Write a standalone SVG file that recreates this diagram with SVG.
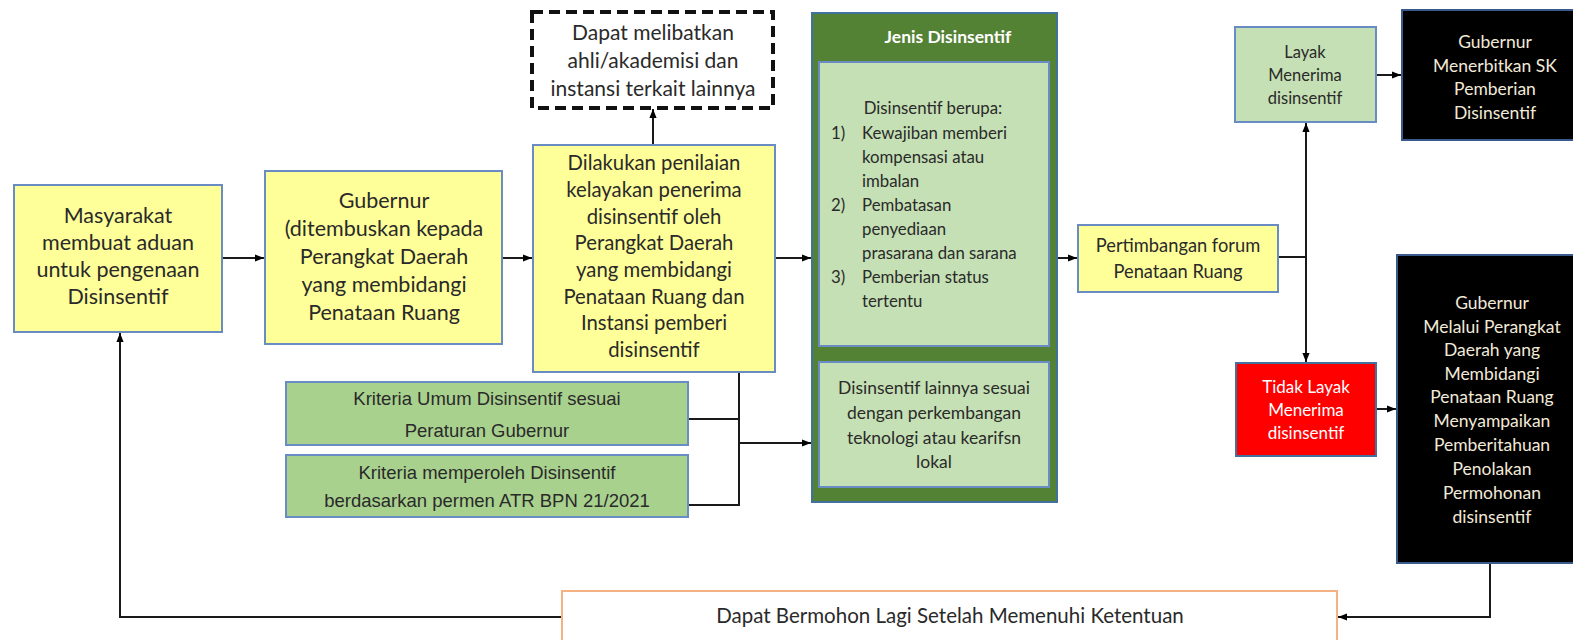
<svg xmlns="http://www.w3.org/2000/svg" width="1573" height="640" viewBox="0 0 1573 640">
<defs>
<marker id="ah" viewBox="0 0 10 10" refX="10" refY="5" markerWidth="9" markerHeight="9" markerUnits="userSpaceOnUse" orient="auto">
<path d="M0,1 L10,5 L0,9 z" fill="#000"/>
</marker>
<style>
.t{font-family:Lato,"Open Sans",sans-serif;fill:#2a2a2a;text-anchor:middle}
.yb{fill:#ffff99;stroke:#6a8cc4;stroke-width:2}
.gb{fill:#c5e0b4;stroke:#6a8cc4;stroke-width:2}
.cb{fill:#a9d18e;stroke:#6a8cc4;stroke-width:2}
.bk{fill:#000;stroke:#3a5a8c;stroke-width:2}
.wt{font-family:Lato,"Open Sans",sans-serif;fill:#f2ead8;text-anchor:middle}
.ar{font-family:"Liberation Sans",Arial,sans-serif;fill:#2a2a2a;text-anchor:middle}
.c{fill:none;stroke:#1a1a1a;stroke-width:2}
</style>
</defs>
<rect width="1573" height="640" fill="#fff"/>

<g id="connectors">
<line class="c" x1="222" y1="258" x2="264" y2="258" marker-end="url(#ah)"/>
<line class="c" x1="502" y1="258" x2="532" y2="258" marker-end="url(#ah)"/>
<line class="c" x1="653" y1="145" x2="653" y2="109" marker-end="url(#ah)"/>
<line class="c" x1="775" y1="258" x2="811" y2="258" marker-end="url(#ah)"/>
<polyline class="c" points="739,372 739,505 688,505"/>
<line class="c" x1="688" y1="419" x2="739" y2="419"/>
<line class="c" x1="739" y1="443" x2="811" y2="443" marker-end="url(#ah)"/>
<line class="c" x1="1057" y1="258" x2="1077" y2="258" marker-end="url(#ah)"/>
<line class="c" x1="1278" y1="257" x2="1306" y2="257"/>
<line class="c" x1="1306" y1="257" x2="1306" y2="123" marker-end="url(#ah)"/>
<line class="c" x1="1306" y1="257" x2="1306" y2="362" marker-end="url(#ah)"/>
<line class="c" x1="1376" y1="75" x2="1401" y2="75" marker-end="url(#ah)"/>
<line class="c" x1="1376" y1="409" x2="1396" y2="409" marker-end="url(#ah)"/>
<polyline class="c" points="1490,563 1490,617 1338,617" marker-end="url(#ah)"/>
<polyline class="c" points="562,617 120,617 120,333" marker-end="url(#ah)"/>
</g>

<g id="n-masyarakat">
<rect class="yb" x="14" y="185" width="208" height="147"/>
<text class="t" font-size="21.5"><tspan x="118" y="223">Masyarakat</tspan><tspan x="118" y="250">membuat aduan</tspan><tspan x="118" y="277">untuk pengenaan</tspan><tspan x="118" y="304">Disinsentif</tspan></text>
</g>

<g id="n-gubernur">
<rect class="yb" x="265" y="171" width="237" height="173"/>
<text class="t" font-size="21.5"><tspan x="384" y="208">Gubernur</tspan><tspan x="384" y="236">(ditembuskan kepada</tspan><tspan x="384" y="264">Perangkat Daerah</tspan><tspan x="384" y="292">yang membidangi</tspan><tspan x="384" y="320">Penataan Ruang</tspan></text>
</g>

<g id="n-ahli">
<rect x="532" y="12" width="241" height="96" fill="#fff" stroke="#111" stroke-width="4" stroke-dasharray="11,6"/>
<text class="t" font-size="21"><tspan x="653" y="40">Dapat melibatkan</tspan><tspan x="653" y="68">ahli/akademisi dan</tspan><tspan x="653" y="96">instansi terkait lainnya</tspan></text>
</g>

<g id="n-penilaian">
<rect class="yb" x="533" y="145" width="242" height="227"/>
<text class="t" font-size="20.3"><tspan x="654" y="170">Dilakukan penilaian</tspan><tspan x="654" y="197">kelayakan penerima</tspan><tspan x="654" y="224">disinsentif oleh</tspan><tspan x="654" y="250">Perangkat Daerah</tspan><tspan x="654" y="277">yang membidangi</tspan><tspan x="654" y="304">Penataan Ruang dan</tspan><tspan x="654" y="330">Instansi pemberi</tspan><tspan x="654" y="357">disinsentif</tspan></text>
</g>

<g id="n-kriteria-umum">
<rect class="cb" x="286" y="382" width="402" height="63"/>
<text class="ar" font-size="18.5"><tspan x="487" y="405">Kriteria Umum Disinsentif sesuai</tspan><tspan x="487" y="437">Peraturan Gubernur</tspan></text>
</g>

<g id="n-kriteria-atr">
<rect class="cb" x="286" y="455" width="402" height="62"/>
<text class="ar" font-size="18.5"><tspan x="487" y="479">Kriteria memperoleh Disinsentif</tspan><tspan x="487" y="507">berdasarkan permen ATR BPN 21/2021</tspan></text>
</g>

<g id="n-jenis">
<rect x="812" y="13" width="245" height="489" fill="#548235" stroke="#41719c" stroke-width="2"/>
<text x="948" y="43" font-family="Lato,'Open Sans',sans-serif" font-size="17.5" font-weight="bold" fill="#fff" text-anchor="middle">Jenis Disinsentif</text>
<rect class="gb" x="819" y="62" width="230" height="284"/>
<text class="t" font-size="16.8"><tspan x="933" y="114">Disinsentif berupa:</tspan></text>
<text class="t" font-size="16.8" style="text-anchor:start"><tspan x="831" y="139">1)</tspan><tspan x="862" y="139">Kewajiban memberi</tspan><tspan x="862" y="163">kompensasi atau</tspan><tspan x="862" y="187">imbalan</tspan><tspan x="831" y="211">2)</tspan><tspan x="862" y="211">Pembatasan</tspan><tspan x="862" y="235">penyediaan</tspan><tspan x="862" y="259">prasarana dan sarana</tspan><tspan x="831" y="283">3)</tspan><tspan x="862" y="283">Pemberian status</tspan><tspan x="862" y="307">tertentu</tspan></text>
<rect class="gb" x="819" y="362" width="230" height="125"/>
<text class="t" font-size="17.5"><tspan x="934" y="394">Disinsentif lainnya sesuai</tspan><tspan x="934" y="419">dengan perkembangan</tspan><tspan x="934" y="444">teknologi atau kearifsn</tspan><tspan x="934" y="468">lokal</tspan></text>
</g>

<g id="n-pertimbangan">
<rect class="yb" x="1078" y="225" width="200" height="67"/>
<text class="t" font-size="18.3"><tspan x="1178" y="252">Pertimbangan forum</tspan><tspan x="1178" y="278">Penataan Ruang</tspan></text>
</g>

<g id="n-layak">
<rect class="gb" x="1235" y="27" width="141" height="95"/>
<text class="t" font-size="16.5"><tspan x="1305" y="58">Layak</tspan><tspan x="1305" y="81">Menerima</tspan><tspan x="1305" y="104">disinsentif</tspan></text>
</g>

<g id="n-sk">
<rect class="bk" x="1402" y="10" width="180" height="130"/>
<text class="wt" font-size="17.5"><tspan x="1495" y="48">Gubernur</tspan><tspan x="1495" y="72">Menerbitkan SK</tspan><tspan x="1495" y="95">Pemberian</tspan><tspan x="1495" y="119">Disinsentif</tspan></text>
</g>

<g id="n-tidak-layak">
<rect x="1236" y="363" width="140" height="93" fill="#ff0000" stroke="#41719c" stroke-width="2"/>
<text font-family="Lato,'Open Sans',sans-serif" fill="#fff" text-anchor="middle" font-size="17"><tspan x="1306" y="393">Tidak Layak</tspan><tspan x="1306" y="416">Menerima</tspan><tspan x="1306" y="439">disinsentif</tspan></text>
</g>

<g id="n-penolakan">
<rect class="bk" x="1397" y="255" width="185" height="308"/>
<text class="wt" font-size="17.5"><tspan x="1492" y="309">Gubernur</tspan><tspan x="1492" y="333">Melalui Perangkat</tspan><tspan x="1492" y="356">Daerah  yang</tspan><tspan x="1492" y="380">Membidangi</tspan><tspan x="1492" y="403">Penataan Ruang</tspan><tspan x="1492" y="427">Menyampaikan</tspan><tspan x="1492" y="451">Pemberitahuan</tspan><tspan x="1492" y="475">Penolakan</tspan><tspan x="1492" y="499">Permohonan</tspan><tspan x="1492" y="523">disinsentif</tspan></text>
</g>

<g id="n-bermohon">
<rect x="562" y="591" width="775" height="60" fill="#fff" stroke="#f4b183" stroke-width="2"/>
<text class="t" font-size="20.5"><tspan x="950" y="623">Dapat Bermohon Lagi Setelah Memenuhi Ketentuan</tspan></text>
</g>
</svg>
